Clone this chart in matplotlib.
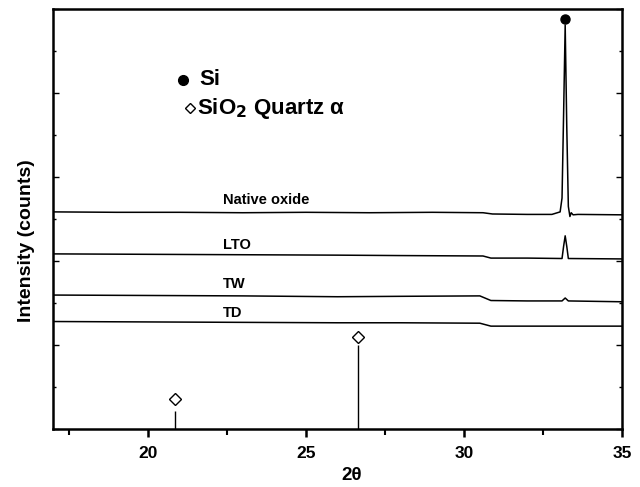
import matplotlib
matplotlib.use("Agg")
import matplotlib.pyplot as plt
from matplotlib.ticker import MultipleLocator

plt.rcParams['font.family'] = ['Liberation Sans', 'DejaVu Sans']
plt.rcParams['font.weight'] = 'bold'

# XRD traces (2theta, intensity in arbitrary offset units)
native_x = [17, 19, 21, 23, 25, 27, 29, 30.6, 30.9, 32.0, 32.78, 33.04, 33.1,
            33.15, 33.2, 33.25, 33.3, 33.35, 33.39, 33.45, 33.6, 35]
native_y = [5.17, 5.16, 5.16, 5.15, 5.16, 5.15, 5.16, 5.15, 5.12, 5.11, 5.11, 5.17, 5.5,
            7.5, 9.62, 7.2, 5.3, 5.06, 5.15, 5.1, 5.11, 5.10]

lto_x = [17, 20, 23, 26, 28, 30.6, 30.85, 32, 33.1, 33.15, 33.2, 33.25, 33.3, 35]
lto_y = [4.17, 4.16, 4.15, 4.14, 4.13, 4.12, 4.07, 4.07, 4.06, 4.35, 4.6, 4.35, 4.06, 4.05]

tw_x = [17, 20, 23, 26, 28, 30.5, 30.85, 32, 33.1, 33.2, 33.3, 35]
tw_y = [3.19, 3.18, 3.17, 3.15, 3.16, 3.17, 3.06, 3.05, 3.05, 3.12, 3.05, 3.03]

td_x = [17, 20, 23, 26, 28, 30.5, 30.85, 32, 35]
td_y = [2.56, 2.55, 2.54, 2.53, 2.53, 2.52, 2.45, 2.45, 2.45]

# reference peaks
si_peak_x = [33.2]
si_peak_y = [9.76]
quartz_x = [20.86, 26.64]
quartz_stem = [0.43, 2.0]
quartz_mark = [0.71, 2.2]

labels = ["Native oxide", "LTO", "TW", "TD"]
label_y = [5.45, 4.38, 3.45, 2.76]

fig = plt.figure(figsize=(6.4, 4.87), dpi=100)
ax = fig.add_axes([0.083, 0.119, 0.889, 0.8625])

for xs, ys in [(native_x, native_y), (lto_x, lto_y), (tw_x, tw_y), (td_x, td_y)]:
    ax.plot(xs, ys, color='black', lw=1.1)

ax.plot(si_peak_x, si_peak_y, 'o', color='black', ms=6.5)
ax.vlines(quartz_x, 0, quartz_stem, color='black', lw=1.0)
ax.plot(quartz_x, quartz_mark, 'D', mfc='white', mec='black', ms=6.5, mew=1.0)

for lab, yy in zip(labels, label_y):
    ax.text(22.38, yy, lab, fontsize=10.5, fontweight='bold', va='center', ha='left')

# legend as text
ax.plot([0.228], [0.831], 'o', color='black', ms=7, transform=ax.transAxes)
ax.text(0.257, 0.831, "Si", fontsize=16, fontweight='bold', va='center', ha='left',
        transform=ax.transAxes)
ax.plot([0.24], [0.764], 'D', mfc='white', mec='black', ms=5.5, mew=1.0,
        transform=ax.transAxes)
ax.text(0.2525, 0.764, r"SiO$_\mathbf{2}$ Quartz α", fontsize=16, fontweight='bold',
        va='center', ha='left', transform=ax.transAxes)

ax.set_xlim(17, 35)
ax.set_ylim(0, 10)
ax.xaxis.set_major_locator(MultipleLocator(5))
ax.xaxis.set_minor_locator(MultipleLocator(2.5))
ax.yaxis.set_major_locator(MultipleLocator(2))
ax.yaxis.set_minor_locator(MultipleLocator(1))
ax.tick_params(axis='x', which='major', direction='out', length=6, width=1.8,
               labelsize=12.5, pad=6)
ax.tick_params(axis='x', which='minor', direction='out', length=4, width=1.5)
ax.tick_params(axis='y', which='both', direction='in', left=True, right=True,
               labelleft=False, width=1.0)
ax.tick_params(axis='y', which='major', length=4)
ax.tick_params(axis='y', which='minor', length=2)
for lbl in ax.get_xticklabels():
    lbl.set_fontweight('bold')
for s in ax.spines.values():
    s.set_linewidth(1.8)

ax.set_xlabel("2θ", fontsize=13.5, fontweight='bold', va='center')
ax.set_ylabel("Intensity (counts)", fontsize=14, fontweight='bold', va='center')
ax.xaxis.set_label_coords(0.525, -0.111)
ax.yaxis.set_label_coords(-0.046, 0.448)

fig.savefig("out.png", dpi=100)
